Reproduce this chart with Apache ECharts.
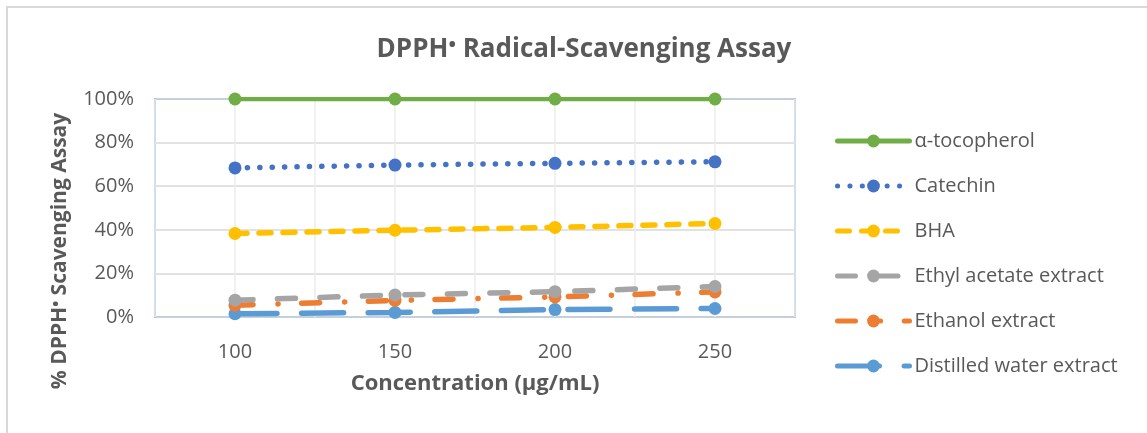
<!DOCTYPE html>
<html lang="en">
<head>
  <meta charset="UTF-8">
  <title>DPPH Radical-Scavenging Assay</title>
  <script src="https://cdn.jsdelivr.net/npm/echarts@6/dist/echarts.min.js"></script>
  <style>
    html, body {
      margin: 0;
      padding: 0;
      background-color: #ffffff;
      overflow: hidden;
    }
    #chart {
      width: 1147px;
      height: 433px;
    }
  </style>
</head>
<body>
  <div id="chart"></div>

  <script>
    // Concentrations (µg/mL)
    var concentrations = [100, 150, 200, 250];

    // % scavenging per sample
    var tocopherol = [100, 100, 100, 100];
    var catechin = [68.4, 69.7, 70.5, 71.2];
    var bha = [38.3, 39.8, 41.1, 42.9];
    var ethylAcetate = [7.7, 10.1, 11.6, 14.0];
    var ethanol = [5.4, 7.6, 9.2, 11.5];
    var distilledWater = [1.5, 2.1, 3.4, 3.9];

    var yTicks = [0, 20, 40, 60, 80, 100];

    var textColor = '#595959';
    var fontFamily = '"Open Sans", "Noto Sans", sans-serif';

    var chart = echarts.init(document.getElementById('chart'));

    // pair each value with its concentration
    function pairs(values) {
      return concentrations.map(function (c, i) { return [c, values[i]]; });
    }

    function lineSeries(name, values, color, dash, width, z) {
      return {
        name: name,
        type: 'line',
        data: pairs(values),
        symbol: 'circle',
        symbolSize: 13,
        z: z,
        itemStyle: { color: color },
        lineStyle: {
          color: color,
          width: width,
          type: dash,
          cap: 'round'
        }
      };
    }

    var option = {
      animation: false,
      textStyle: { fontFamily: fontFamily },
      title: {
        text: 'DPPH{sup|•} Radical-Scavenging Assay',
        left: 579,
        textAlign: 'center',
        top: 30,
        textStyle: {
          fontSize: 26,
          fontWeight: 'bold',
          color: textColor,
          rich: {
            sup: { fontSize: 20, fontWeight: 'bold', color: textColor, padding: [0, 0, 10, 0] }
          }
        }
      },
      graphic: [{
        type: 'rect',
        shape: { x: 7, y: 7, width: 1200, height: 500 },
        style: { fill: 'none', stroke: '#d9d9d9', lineWidth: 2 },
        silent: true
      }],
      legend: {
        orient: 'vertical',
        left: 835,
        top: 131,
        padding: 0,
        itemWidth: 72,
        itemHeight: 16,
        itemGap: 25,
        lineStyle: { width: 5, cap: 'round' },
        textStyle: { fontSize: 20, color: textColor },
        data: ['α-tocopherol', 'Catechin', 'BHA', 'Ethyl acetate extract', 'Ethanol extract', 'Distilled water extract']
      },
      grid: {
        left: 155,
        right: 352,
        top: 99,
        bottom: 116,
        show: true,
        borderColor: '#5B9BD5',
        borderWidth: 1.5,
        backgroundColor: 'transparent'
      },
      xAxis: {
        type: 'value',
        min: 75,
        max: 275,
        interval: 25,
        name: 'Concentration (µg/mL)',
        nameLocation: 'middle',
        nameGap: 56,
        nameTextStyle: { fontSize: 22, fontWeight: 'bold', color: textColor },
        axisLine: { show: false },
        axisTick: { show: false },
        axisLabel: {
          fontSize: 20,
          color: textColor,
          margin: 25,
          formatter: function (v) {
            return concentrations.indexOf(v) >= 0 ? String(v) : '';
          }
        },
        splitLine: { show: true, lineStyle: { color: '#ececec', width: 1.5 } }
      },
      yAxis: {
        type: 'value',
        min: yTicks[0],
        max: yTicks[yTicks.length - 1],
        interval: 20,
        name: '% DPPH{sup|•} Scavenging Assay',
        nameLocation: 'middle',
        nameGap: 83,
        nameTextStyle: {
          fontSize: 21,
          fontWeight: 'bold',
          color: textColor,
          padding: [0, 86, 0, 0],
          rich: {
            sup: { fontSize: 16, fontWeight: 'bold', color: textColor, padding: [0, 0, 8, 0] }
          }
        },
        axisLine: { show: false },
        axisTick: { show: false },
        axisLabel: {
          fontSize: 20,
          color: textColor,
          margin: 21,
          formatter: '{value}%'
        },
        splitLine: { show: true, lineStyle: { color: '#d9d9d9', width: 1.5 } }
      },
      series: [
        lineSeries('α-tocopherol', tocopherol, '#70AD47', 'solid', 4.5, 7),
        lineSeries('Catechin', catechin, '#4472C4', [0.1, 12.3], 5.5, 6),
        lineSeries('BHA', bha, '#FFC000', [12, 12], 5.5, 5),
        lineSeries('Ethyl acetate extract', ethylAcetate, '#A5A5A5', [18, 24.5], 5.5, 4),
        lineSeries('Ethanol extract', ethanol, '#ED7D31', [18, 25, 0.1, 23.6], 5.5, 3),
        lineSeries('Distilled water extract', distilledWater, '#5B9BD5', [42, 24.6], 5.5, 2)
      ]
    };

    chart.setOption(option);

    window.addEventListener('resize', function () {
      chart.resize();
    });
  </script>
</body>
</html>
